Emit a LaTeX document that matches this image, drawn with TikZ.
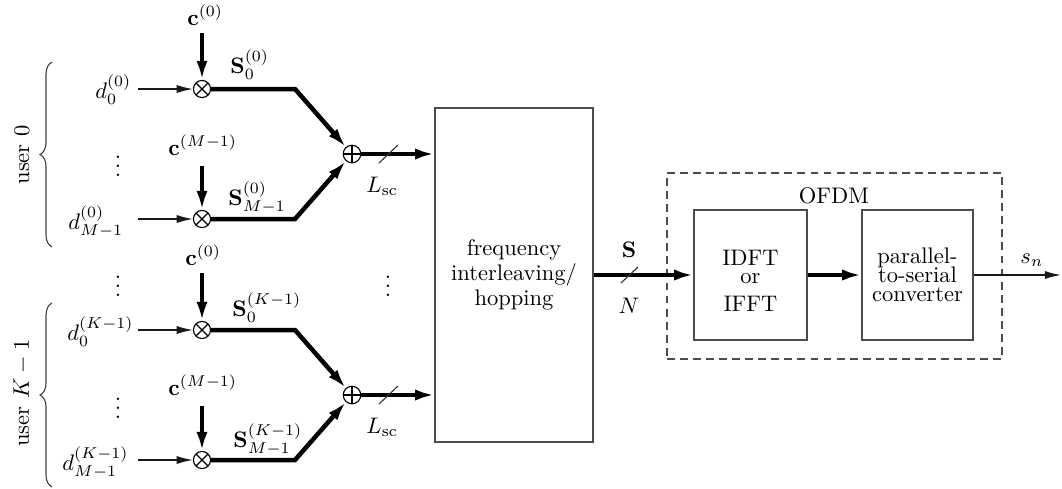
\documentclass[tikz,border=0pt]{standalone}
\usetikzlibrary{arrows.meta,decorations.pathreplacing}
\begin{document}
\begin{tikzpicture}[x=0.4444pt,y=-0.4444pt,
  thinln/.style={line width=0.5pt, draw=black!80},
  thinarrow/.style={line width=0.55pt, draw=black!90, -{Latex[length=7.2pt,width=3.6pt]}},
  thkarrow/.style={line width=2pt, -{Latex[length=8.5pt,width=5pt]}},
  mul/.style={circle, draw, line width=0.5pt, inner sep=0pt, minimum size=7.6pt,
    path picture={\draw[line width=0.5pt] (path picture bounding box.north west) -- (path picture bounding box.south east)
      (path picture bounding box.north east) -- (path picture bounding box.south west);}},
  add/.style={circle, draw, line width=0.5pt, inner sep=0pt, minimum size=7.8pt,
    path picture={\draw[line width=0.5pt] (path picture bounding box.north) -- (path picture bounding box.south)
      (path picture bounding box.west) -- (path picture bounding box.east);}},
  lbl/.style={inner sep=0pt},
  blk/.style={draw=black!70, line width=0.6pt, inner sep=0pt, align=center},
  brc/.style={line width=0.5pt, draw=black!75, decorate, decoration={brace, amplitude=5.3pt}},
]
\useasboundingbox (0,0) rectangle (1062,488);

% ---------- user 0 ----------
\node[mul] (m1) at (202,89) {};
\node[mul] (m2) at (202,219) {};
\node[add] (a1) at (352,154) {};
\node[lbl, anchor=base west] (c1) at (187,25) {$\mathbf{c}^{(0)}$};
\node[lbl, anchor=base west] (c2) at (168,155) {$\mathbf{c}^{(M-1)}$};
\node[lbl, anchor=base west] (d1) at (95,98) {$d_0^{(0)}$};
\node[lbl, anchor=base west] (d2) at (68,229) {$d_{M-1}^{(0)}$};
\node[lbl, anchor=base west] (s1) at (230,73) {$\mathbf{S}_0^{(0)}$};
\node[lbl, anchor=base west] (s2) at (228,205) {$\mathbf{S}_{M-1}^{(0)}$};
\node[lbl, anchor=base west] (l1) at (366,192) {$L_{\mathrm{sc}}$};
\node[lbl] (v1) at (118,160) {$\vdots$};
\coordinate (i1) at (138,89);
\coordinate (i2) at (138,219);
\coordinate (b1) at (295,89);
\coordinate (b2) at (295,219);
\coordinate (t1) at (202,33);
\coordinate (t2) at (202,166);

% ---------- user K-1 ----------
\node[mul] (m3) at (202,330) {};
\node[mul] (m4) at (202,460) {};
\node[add] (a2) at (352,395) {};
\node[lbl, anchor=base west] (c3) at (185,265) {$\mathbf{c}^{(0)}$};
\node[lbl, anchor=base west] (c4) at (168,395) {$\mathbf{c}^{(M-1)}$};
\node[lbl, anchor=base west] (d3) at (67,340) {$d_0^{(K-1)}$};
\node[lbl, anchor=base west] (d4) at (62,470) {$d_{M-1}^{(K-1)}$};
\node[lbl, anchor=base west] (s3) at (232,316) {$\mathbf{S}_0^{(K-1)}$};
\node[lbl, anchor=base west] (s4) at (233,447) {$\mathbf{S}_{M-1}^{(K-1)}$};
\node[lbl, anchor=base west] (l2) at (366,433) {$L_{\mathrm{sc}}$};
\node[lbl] (v2) at (118,280) {$\vdots$};
\node[lbl] (v3) at (118,402) {$\vdots$};
\node[lbl] (v4) at (388,280) {$\vdots$};
\coordinate (i3) at (138,330);
\coordinate (i4) at (138,460);
\coordinate (b3) at (295,330);
\coordinate (b4) at (295,460);
\coordinate (t3) at (202,273);
\coordinate (t4) at (202,406);

% braces and user labels
\draw[brc] (52,247) -- (52,62);
\draw[brc] (52,487) -- (52,303);
\node[rotate=90] (u1) at (22,155) {user 0};
\node[rotate=90] (u2) at (22,393) {user $K-1$};

% ---------- blocks ----------
\node[blk, minimum width=70.2pt, minimum height=148.4pt] (freq) at (514,275)
  {frequency\\[-1pt]interleaving/\\[-1pt]hopping};
\node[draw=black!70, line width=0.6pt, dash pattern=on 3.5pt off 2.3pt,
  minimum width=148.9pt, minimum height=82.7pt, inner sep=0pt] (ofdm) at (834.5,266) {};
\node[lbl, anchor=base] (ofdmtxt) at (834,203) {OFDM};
\node[blk, minimum width=50.2pt, minimum height=57.8pt] (idft) at (750.5,275) {};
\node[lbl, align=center] (idfttxt) at (750.5,281) {IDFT\\[-4pt]or\\[0.4pt]IFFT};
\node[blk, minimum width=49.3pt, minimum height=57.8pt] (ps) at (917.5,275)
  {parallel-\\[-3.6pt]to-serial\\[-3.6pt]converter};
\coordinate (out) at (1061,275);
\node[lbl, anchor=base west] (sn) at (1020,263) {$s_n$};
\node[lbl, anchor=base] (sS) at (629,257) {$\mathbf{S}$};
\node[lbl, anchor=base] (sN) at (629,313) {$N$};

% ---------- connectors ----------
\draw[thinarrow] (i1) -- (m1);
\draw[thinarrow] (i2) -- (m2);
\draw[thinarrow] (i3) -- (m3);
\draw[thinarrow] (i4) -- (m4);
\draw[thkarrow] (t1) -- (m1);
\draw[thkarrow] (t2) -- (m2);
\draw[thkarrow] (t3) -- (m3);
\draw[thkarrow] (t4) -- (m4);
\draw[thkarrow] (m1) -- (b1) -- (a1);
\draw[thkarrow] (m2) -- (b2) -- (a1);
\draw[thkarrow] (m3) -- (b3) -- (a2);
\draw[thkarrow] (m4) -- (b4) -- (a2);
\draw[thkarrow] (a1) -- (a1 -| freq.west);
\draw[thkarrow] (a2) -- (a2 -| freq.west);
\draw[thkarrow] (freq) -- (idft);
\draw[thkarrow] (idft) -- (ps);
\draw[thinarrow] (ps) -- (out);

% bus slashes
\draw[thinln] (379,163) -- (398,145);
\draw[thinln] (379,404) -- (398,386);
\draw[thinln] (621,283) -- (638,267);
\end{tikzpicture}
\end{document}
